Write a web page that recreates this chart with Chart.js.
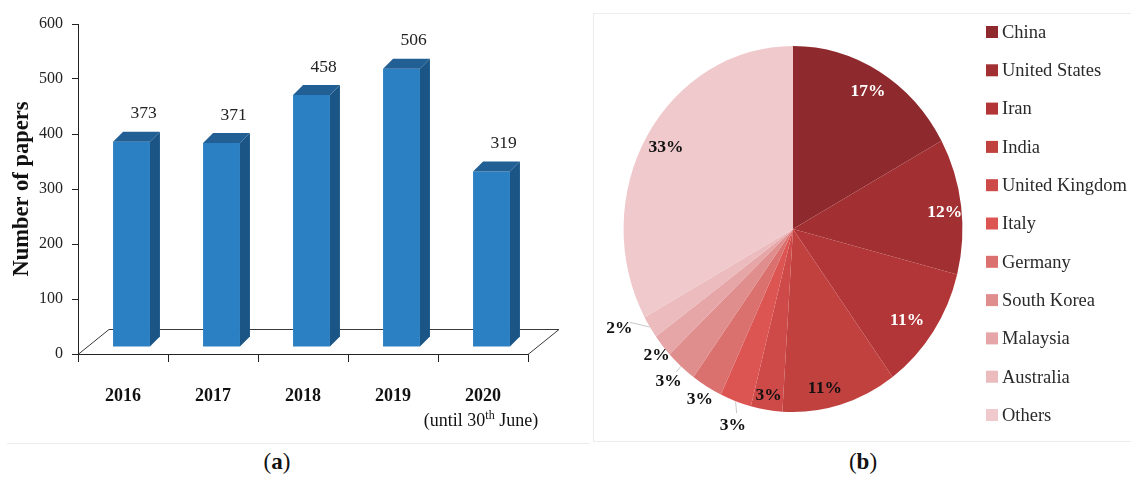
<!DOCTYPE html>
<html>
<head>
<meta charset="utf-8">
<script src="https://cdn.jsdelivr.net/npm/chart.js@4.4.1/dist/chart.umd.min.js"></script>
<style>
  html, body { margin:0; padding:0; background:#fff; width:1131px; height:478px; overflow:hidden; }
  #wrapA { position:absolute; left:0; top:0; width:590px; height:440px; }
  #wrapB { position:absolute; left:593px; top:13px; width:538px; height:430px; }
  #panelB { position:absolute; left:593px; top:13px; width:545px; height:429px; border:1px solid #ececec; box-sizing:border-box; }
  #lineA { position:absolute; left:7px; top:443px; width:583px; height:0; border-top:1px solid #ececec; }
  .cap { position:absolute; top:449px; font-family:"Liberation Serif", serif; font-size:23px; color:#111; transform:translateX(-50%); }
</style>
</head>
<body>
<div id="lineA"></div>
<div id="panelB"></div>
<div id="wrapA"><canvas id="chartA" width="590" height="440"></canvas></div>
<div id="wrapB"><canvas id="chartB" width="538" height="430"></canvas></div>
<div class="cap" style="left:277px">(<b>a</b>)</div>
<div class="cap" style="left:863px">(<b>b</b>)</div>
<script>
// ---------- data ----------
const years = ['2016', '2017', '2018', '2019', '2020'];
const yearNotes = ['', '', '', '', '(until 30th June)'];
const papers = [373, 371, 458, 506, 319];
const yMin = 0, yMax = 600, yStep = 100;

const countries = ['China', 'United States', 'Iran', 'India', 'United Kingdom', 'Italy',
                   'Germany', 'South Korea', 'Malaysia', 'Australia', 'Others'];
const shares = [17, 12, 11, 11, 3, 3, 3, 3, 2, 2, 33];

// ---------- styles ----------
const SERIF = '"Liberation Serif", "DejaVu Serif", serif';
const sliceColors = ['#8E2A2D', '#A23033', '#B23638', '#C1413F', '#CE4A48', '#DD5553',
                     '#DA716F', '#E08E8D', '#E6A5A6', '#ECBBBE', '#F0C9CC'];
const labelRadius = [0.87, 0.9, 0.84, 0.89, 0.92, 1.13, 1.08, 1.11, 1.06, 1.16, 0.87];
const labelAngleShift = [0, 1.5, 2.5, 4, 0, -1.5, 0, 0, -1, 4.5, 0]; // degrees
const labelColor = ['#fff', '#fff', '#fff', '#111', '#111', '#111', '#111', '#111', '#111', '#111', '#111'];

Chart.defaults.font.family = SERIF;

// ---------- 3D bar plugin ----------
const BAR_SHIFT_X = 8.5, BAR_SHIFT_Y = -7, SIDE_DX = 10, SIDE_DY = 10;
const FLOOR_DX = 31, FLOOR_DY = 25;
const bar3d = {
  id: 'bar3d',
  beforeDatasetsDraw(chart) {
    const ctx = chart.ctx, ca = chart.chartArea;
    ctx.save();
    ctx.strokeStyle = '#3a3a3a';
    ctx.lineWidth = 1;
    ctx.beginPath();
    ctx.moveTo(ca.left, ca.bottom + 0.5);
    ctx.lineTo(ca.left + FLOOR_DX, ca.bottom - FLOOR_DY + 0.5);
    ctx.lineTo(ca.right + FLOOR_DX, ca.bottom - FLOOR_DY + 0.5);
    ctx.lineTo(ca.right, ca.bottom + 0.5);
    ctx.stroke();
    ctx.restore();
    ctx.save();
    ctx.translate(BAR_SHIFT_X, BAR_SHIFT_Y);
  },
  afterDatasetsDraw(chart) {
    const ctx = chart.ctx;
    const meta = chart.getDatasetMeta(0);
    meta.data.forEach((bar) => {
      const xl = bar.x - bar.width / 2, xr = bar.x + bar.width / 2;
      const yt = bar.y, yb = bar.base;
      ctx.fillStyle = '#1B5585';
      ctx.beginPath();
      ctx.moveTo(xr, yt); ctx.lineTo(xr + SIDE_DX, yt - SIDE_DY);
      ctx.lineTo(xr + SIDE_DX, yb - SIDE_DY); ctx.lineTo(xr, yb); ctx.closePath();
      ctx.fill();
      ctx.fillStyle = '#215F94';
      ctx.beginPath();
      ctx.moveTo(xl, yt); ctx.lineTo(xr, yt);
      ctx.lineTo(xr + SIDE_DX, yt - SIDE_DY); ctx.lineTo(xl + SIDE_DX, yt - SIDE_DY); ctx.closePath();
      ctx.fill();
    });
    ctx.restore();
    // value labels
    ctx.save();
    ctx.font = '17.5px ' + SERIF;
    ctx.fillStyle = '#222';
    ctx.textAlign = 'center';
    ctx.textBaseline = 'middle';
    meta.data.forEach((bar, i) => {
      ctx.fillText(String(papers[i]), bar.x + BAR_SHIFT_X + 12, bar.y + BAR_SHIFT_Y - SIDE_DY - 18);
    });
    // notes under category labels (superscript ordinal)
    const xs = chart.scales.x;
    yearNotes.forEach((note, i) => {
      if (!note) return;
      const m = note.match(/^(.*?\d+)(st|nd|rd|th)(.*)$/);
      const parts = m ? [[m[1], 18, 0], [m[2], 12, -5], [m[3], 18, 0]] : [[note, 18, 0]];
      let total = 0;
      parts.forEach(p => { ctx.font = p[1] + 'px ' + SERIF; total += ctx.measureText(p[0]).width; });
      let x = xs.getPixelForValue(i) - total / 2 - 2;
      ctx.textAlign = 'left';
      ctx.fillStyle = '#111';
      parts.forEach(p => {
        ctx.font = p[1] + 'px ' + SERIF;
        ctx.fillText(p[0], x, 421 + p[2]);
        x += ctx.measureText(p[0]).width;
      });
    });
    ctx.restore();
  }
};

new Chart(document.getElementById('chartA'), {
  type: 'bar',
  data: {
    labels: years,
    datasets: [{
      data: papers,
      backgroundColor: '#2A80C2',
      borderWidth: 0,
      categoryPercentage: 1,
      barPercentage: 0.41,
      clip: false
    }]
  },
  options: {
    responsive: false,
    animation: false,
    devicePixelRatio: 1,
    layout: { padding: { top: 24, right: 62, left: 0, bottom: 0 } },
    plugins: { legend: { display: false }, tooltip: { enabled: false } },
    scales: {
      x: {
        grid: { offset: true, drawOnChartArea: false, tickLength: 8, color: '#222', tickColor: '#222' },
        border: { display: true, color: '#222' },
        ticks: { font: { family: SERIF, size: 18, weight: 'bold' }, color: '#111', padding: 24 },
        afterFit(s) { s.height = 86; }
      },
      y: {
        min: yMin, max: yMax,
        ticks: { stepSize: yStep, font: { family: SERIF, size: 16 }, color: '#222', padding: 9 },
        grid: { drawOnChartArea: false, tickLength: 6, color: '#222', tickColor: '#222' },
        border: { display: true, color: '#222' },
        title: { display: true, text: 'Number of papers', font: { family: SERIF, size: 22.5, weight: 'bold' },
                 color: '#111', padding: { top: 9, bottom: 0 } },
        afterFit(s) { s.width = 78; }
      }
    }
  },
  plugins: [bar3d]
});

// ---------- pie ----------
const SQUEEZE_X = 0.926;
const pieDecor = {
  id: 'pieDecor',
  beforeDatasetsDraw(chart) {
    const ctx = chart.ctx;
    const arc = chart.getDatasetMeta(0).data[0];
    ctx.save();
    ctx.translate(arc.x, arc.y);
    ctx.scale(SQUEEZE_X, 1);
    ctx.translate(-arc.x, -arc.y);
  },
  afterDatasetsDraw(chart) {
    const ctx = chart.ctx;
    ctx.restore();
    const meta = chart.getDatasetMeta(0);
    ctx.save();
    ctx.textAlign = 'center';
    ctx.textBaseline = 'middle';
    meta.data.forEach((a, i) => {
      const mid0 = (a.startAngle + a.endAngle) / 2;
      const mid = mid0 + labelAngleShift[i] * Math.PI / 180;
      const k = labelRadius[i];
      const R = a.outerRadius;
      if (k > 1.1) {
        ctx.strokeStyle = '#c8c8c8';
        ctx.lineWidth = 1;
        ctx.beginPath();
        ctx.moveTo(a.x + Math.cos(mid0) * R * 1.0 * SQUEEZE_X, a.y + Math.sin(mid0) * R * 1.0);
        ctx.lineTo(a.x + Math.cos(mid) * R * (k - 0.07) * SQUEEZE_X, a.y + Math.sin(mid) * R * (k - 0.07));
        ctx.stroke();
      }
      const x = a.x + Math.cos(mid) * R * k * SQUEEZE_X;
      const y = a.y + Math.sin(mid) * R * k;
      ctx.font = 'bold 17.5px ' + SERIF;
      ctx.fillStyle = labelColor[i];
      ctx.fillText(shares[i] + '%', x, y);
    });
    // legend
    const lx = 393, ly0 = 19, step = 38.3;
    ctx.textAlign = 'left';
    countries.forEach((c, i) => {
      const y = ly0 + i * step;
      ctx.fillStyle = sliceColors[i];
      ctx.fillRect(lx, y - 6, 12, 12);
      ctx.fillStyle = '#2a2a2a';
      ctx.font = '18.5px ' + SERIF;
      ctx.fillText(c, lx + 16, y + 1);
    });
    ctx.restore();
  }
};

new Chart(document.getElementById('chartB'), {
  type: 'pie',
  data: {
    labels: countries,
    datasets: [{ data: shares, backgroundColor: sliceColors, borderWidth: 0, clip: false }]
  },
  options: {
    responsive: false,
    animation: false,
    devicePixelRatio: 1,
    layout: { padding: { left: 17, top: 33, right: 155, bottom: 31 } },
    plugins: { legend: { display: false }, tooltip: { enabled: false } }
  },
  plugins: [pieDecor]
});
</script>
</body>
</html>
